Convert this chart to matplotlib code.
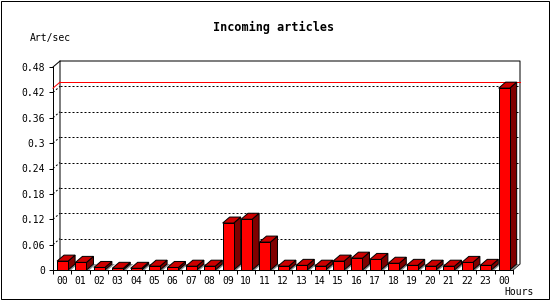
import matplotlib.pyplot as plt
from matplotlib.patches import Polygon, Rectangle

hours = ["00", "01", "02", "03", "04", "05", "06", "07", "08", "09", "10", "11",
         "12", "13", "14", "15", "16", "17", "18", "19", "20", "21", "22", "23", "00"]
values = [0.021, 0.018, 0.006, 0.004, 0.004, 0.009, 0.006, 0.009, 0.009, 0.111,
          0.120, 0.066, 0.009, 0.011, 0.009, 0.021, 0.028, 0.025, 0.016, 0.011,
          0.009, 0.009, 0.018, 0.011, 0.430]
yticks = [0, 0.06, 0.12, 0.18, 0.24, 0.3, 0.36, 0.42, 0.48]
ytick_labels = ["0", "0.06", "0.12", "0.18", "0.24", "0.3", "0.36", "0.42", "0.48"]

W, H = 550, 300
plt.rcParams['font.family'] = ['DejaVu Sans Mono']

fig = plt.figure(figsize=(W / 100, H / 100), dpi=100)
fig.patch.set_facecolor("white")
ax = fig.add_axes([53 / W, 30 / H, 460 / W, 203 / H])
ax.set_xlim(0, len(values))
ax.set_ylim(0, 0.48)
ax.patch.set_alpha(0)
for s in ax.spines.values():
    s.set_visible(False)

# depth of the 3D effect, in data units (7 px right, 6 px up)
px_x = len(values) / 460
px_y = 0.48 / 203
ddx, ddy = 7 * px_x, 6 * px_y
n = len(values)

# back plane frame
lw = 0.72
ax.plot([ddx, ddx, n + ddx, n + ddx, n], [ddy, 0.48 + ddy, 0.48 + ddy, ddy, 0],
        color="black", lw=lw, clip_on=False, zorder=1)
ax.plot([0, ddx], [0.48, 0.48 + ddy], color="black", lw=lw, clip_on=False, zorder=1)
ax.plot([0, 0], [0, 0.48], color="black", lw=lw, clip_on=False, zorder=1)

# dotted grid on back plane
for v in yticks[1:-1]:
    ax.plot([ddx, n + ddx], [v + ddy, v + ddy], color="black", lw=lw,
            linestyle=(0, (2, 2)), clip_on=False, zorder=1)
    ax.plot([0, ddx], [v, v + ddy], color="black", lw=lw,
            linestyle=(0, (2, 2)), clip_on=False, zorder=1)

# max line in red
vmax = max(values)
ax.plot([ddx, n + ddx], [vmax + ddy, vmax + ddy], color="red", lw=lw, clip_on=False, zorder=1.5)
ax.plot([0, ddx], [vmax, vmax + ddy], color="red", lw=lw, clip_on=False, zorder=1.5)

# bars
off, w = 0.22, 0.6
xs = [i + off for i in range(n)]
bars = ax.bar(xs, values, width=w, align="edge", color="#ff0000",
              edgecolor="black", linewidth=lw)
for i, (b, v) in enumerate(zip(bars.patches, values)):
    z = 3 + i * 0.1
    b.set_zorder(z + 0.03)
    x0 = xs[i]
    x1 = x0 + w
    sw = 3 * px_x
    ax.add_patch(Polygon([(x1, 0), (x1 + ddx, ddy), (x1 + ddx + sw, ddy), (x1 + sw, 0)],
                         closed=True, facecolor="#8c8c8c", edgecolor="none",
                         clip_on=False, zorder=z))
    ax.add_patch(Polygon([(x1, 0), (x1, v), (x1 + ddx, v + ddy), (x1 + ddx, ddy)],
                         closed=True, facecolor="#800000", edgecolor="black",
                         linewidth=lw, clip_on=False, zorder=z + 0.01))
    ax.add_patch(Polygon([(x0, v), (x1, v), (x1 + ddx, v + ddy), (x0 + ddx, v + ddy)],
                         closed=True, facecolor="#cc0000", edgecolor="black",
                         linewidth=lw, clip_on=False, zorder=z + 0.02))

ax.axhline(0, color="black", lw=lw, zorder=10, clip_on=False)

# ticks
ax.set_yticks(yticks)
ax.set_yticklabels(ytick_labels)
ax.tick_params(axis="y", direction="out", length=2.9, width=lw, pad=2.9, labelsize=7)
ax.set_xticks(range(n + 1))
ax.set_xticklabels([""] * (n + 1))
ax.set_xticks([i + 0.5 for i in range(n)], minor=True)
ax.set_xticklabels(hours, minor=True)
ax.tick_params(axis="x", which="major", direction="out", length=2.9, width=lw)
ax.tick_params(axis="x", which="minor", length=0, pad=4.5, labelsize=7)

# texts
fig.text(274 / W, 1 - 27 / H, "Incoming articles", ha="center", va="center",
         fontsize=8.5, fontweight="bold")
fig.text(50 / W, 1 - 38 / H, "Art/sec", ha="center", va="center", fontsize=7)
fig.text(519 / W, 1 - 292 / H, "Hours", ha="center", va="center", fontsize=7)

# outer border (1 px, inset on the right and bottom like the original)
fig.patches.append(Rectangle((0.5 / W, 1.5 / H), 548 / W, 298 / H,
                             transform=fig.transFigure, fill=False,
                             edgecolor="black", linewidth=lw))

fig.savefig("out.png", dpi=100)
